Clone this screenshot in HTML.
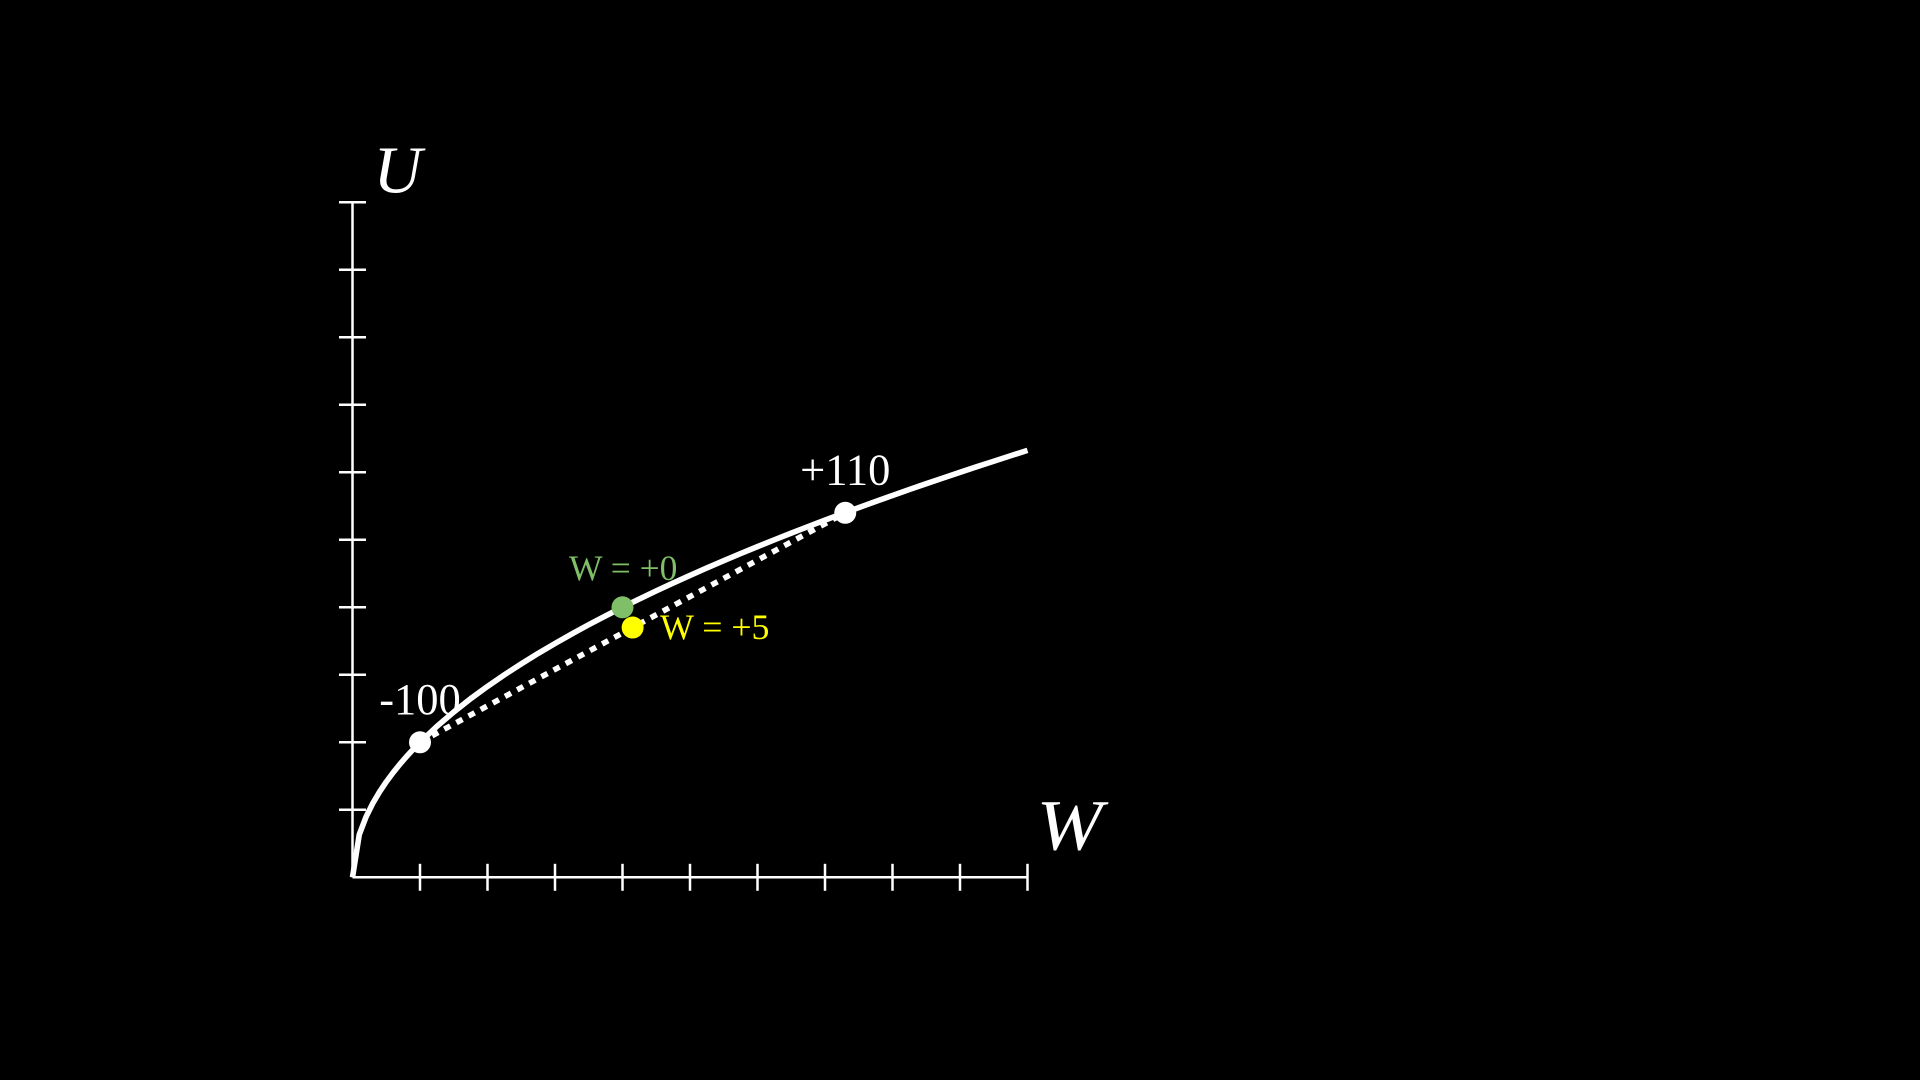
<!DOCTYPE html>
<html lang="en">
<head>
<meta charset="utf-8">
<title>Utility curve</title>
<style>
  html, body { margin: 0; padding: 0; background: #000; width: 1920px; height: 1080px; overflow: hidden; }
  svg { display: block; }
  text { font-family: "Liberation Serif", serif; }
</style>
</head>
<body>
<svg id="chart" xmlns="http://www.w3.org/2000/svg" width="1920" height="1080" viewBox="0 0 1920 1080">
  <rect width="1920" height="1080" fill="#000"></rect>
</svg>
<script>
const curveW = [0,0.1,0.2,0.3,0.4,0.5,0.6,0.7,0.8,0.9,1,1.25,1.5,1.75,2,2.25,2.5,2.75,3,3.25,3.5,3.75,4,4.25,4.5,4.75,5,5.25,5.5,5.75,6,6.25,6.5,6.75,7,7.25,7.5,7.75,8,8.25,8.5,8.75,9,9.25,9.5,9.75,10];
const curveU = [0,0.632,0.894,1.095,1.265,1.414,1.549,1.673,1.789,1.897,2,2.236,2.449,2.646,2.828,3,3.162,3.317,3.464,3.606,3.742,3.873,4,4.123,4.243,4.359,4.472,4.583,4.69,4.796,4.899,5,5.099,5.196,5.292,5.385,5.477,5.568,5.657,5.745,5.831,5.916,6,6.083,6.164,6.245,6.325];
const xTicks = [1,2,3,4,5,6,7,8,9,10];
const yTicks = [1,2,3,4,5,6,7,8,9,10];
const gambleW = [1,7.3];
const gambleU = [2,5.4];
const gambleLabels = ['-100','+110'];
const certainW = 4;
const certainU = 4;
const certainLabel = 'W = +0';
const expectedW = 4.15;
const expectedU = 3.7;
const expectedLabel = 'W = +5';
const xAxisTitle = 'W';
const yAxisTitle = 'U';

const NS = 'http://www.w3.org/2000/svg';
const svg = document.getElementById('chart');
const originX = 352.5, originY = 877.3, unit = 67.5;
function sx(w) { return originX + w * unit; }
function sy(u) { return originY - u * unit; }
function make(tag, attrs, parent) {
  const el = document.createElementNS(NS, tag);
  for (const k in attrs) el.setAttribute(k, attrs[k]);
  (parent || svg).appendChild(el);
  return el;
}
const axisStyle = { stroke: '#fff', 'stroke-width': 2.5 };
const xMax = xTicks[xTicks.length - 1], yMax = yTicks[yTicks.length - 1];

const xAxis = make('line', Object.assign({ x1: sx(0), y1: sy(0), x2: sx(xMax), y2: sy(0) }, axisStyle));


const yAxis = make('line', Object.assign({ x1: sx(0), y1: sy(0), x2: sx(0), y2: sy(yMax) }, axisStyle));



xTicks.forEach(function (t) {
  const tick = make('line', Object.assign({ x1: sx(t), y1: sy(0) - 13.5, x2: sx(t), y2: sy(0) + 13.5 }, axisStyle));
  
  
});
yTicks.forEach(function (t) {
  const tick = make('line', Object.assign({ x1: sx(0) - 13.5, y1: sy(t), x2: sx(0) + 13.5, y2: sy(t) }, axisStyle));
  
  
});

function addText(str, x, y, size, fill, anchor, italic) {
  const t = make('text', { x: x, y: y, 'font-size': size, fill: fill, 'text-anchor': anchor });
  if (italic) t.setAttribute('font-style', 'italic');
  t.textContent = str;
  return t;
}

const yTitle = addText(yAxisTitle, sx(0) + 21, sy(yMax) - 10, 67, '#fff', 'start', true);


const xTitle = addText(xAxisTitle, sx(xMax) + 9, sy(0) - 28, 72, '#fff', 'start', true);
xTitle.setAttribute('textLength', '66');
xTitle.setAttribute('lengthAdjust', 'spacingAndGlyphs');



gambleLabels.forEach(function (label, i) {
  const lbl = addText(label, sx(gambleW[i]), sy(gambleU[i]) - 28.5, 44.5, '#fff', 'middle', false);
  
  
});

const curve = make('polyline', {
  points: curveW.map(function (w, i) { return sx(w) + ',' + sy(curveU[i]); }).join(' '),
  fill: 'none', stroke: '#fff', 'stroke-width': 5.6, 'stroke-linejoin': 'round'
});



const chord = make('line', {
  x1: sx(gambleW[0]), y1: sy(gambleU[0]), x2: sx(gambleW[1]), y2: sy(gambleU[1]),
  stroke: '#fff', 'stroke-width': 5.6, 'stroke-dasharray': '6.9 6.9'
});



gambleW.forEach(function (w, i) {
  const dot = make('circle', { cx: sx(w), cy: sy(gambleU[i]), r: 11, fill: '#fff' });
  
  
});

const certainDot = make('circle', { cx: sx(certainW), cy: sy(certainU), r: 11, fill: '#7fbf67' });


const certainText = addText(certainLabel, sx(certainW) - 53.5, sy(certainU) - 27.5, 35.5, '#7fbf67', 'start', false);



const expectedDot = make('circle', { cx: sx(expectedW), cy: sy(expectedU), r: 11, fill: '#ffff00' });


const expectedText = addText(expectedLabel, sx(expectedW) + 27.5, sy(expectedU) + 11.5, 35.8, '#ffff00', 'start', false);


</script>
</body>
</html>
